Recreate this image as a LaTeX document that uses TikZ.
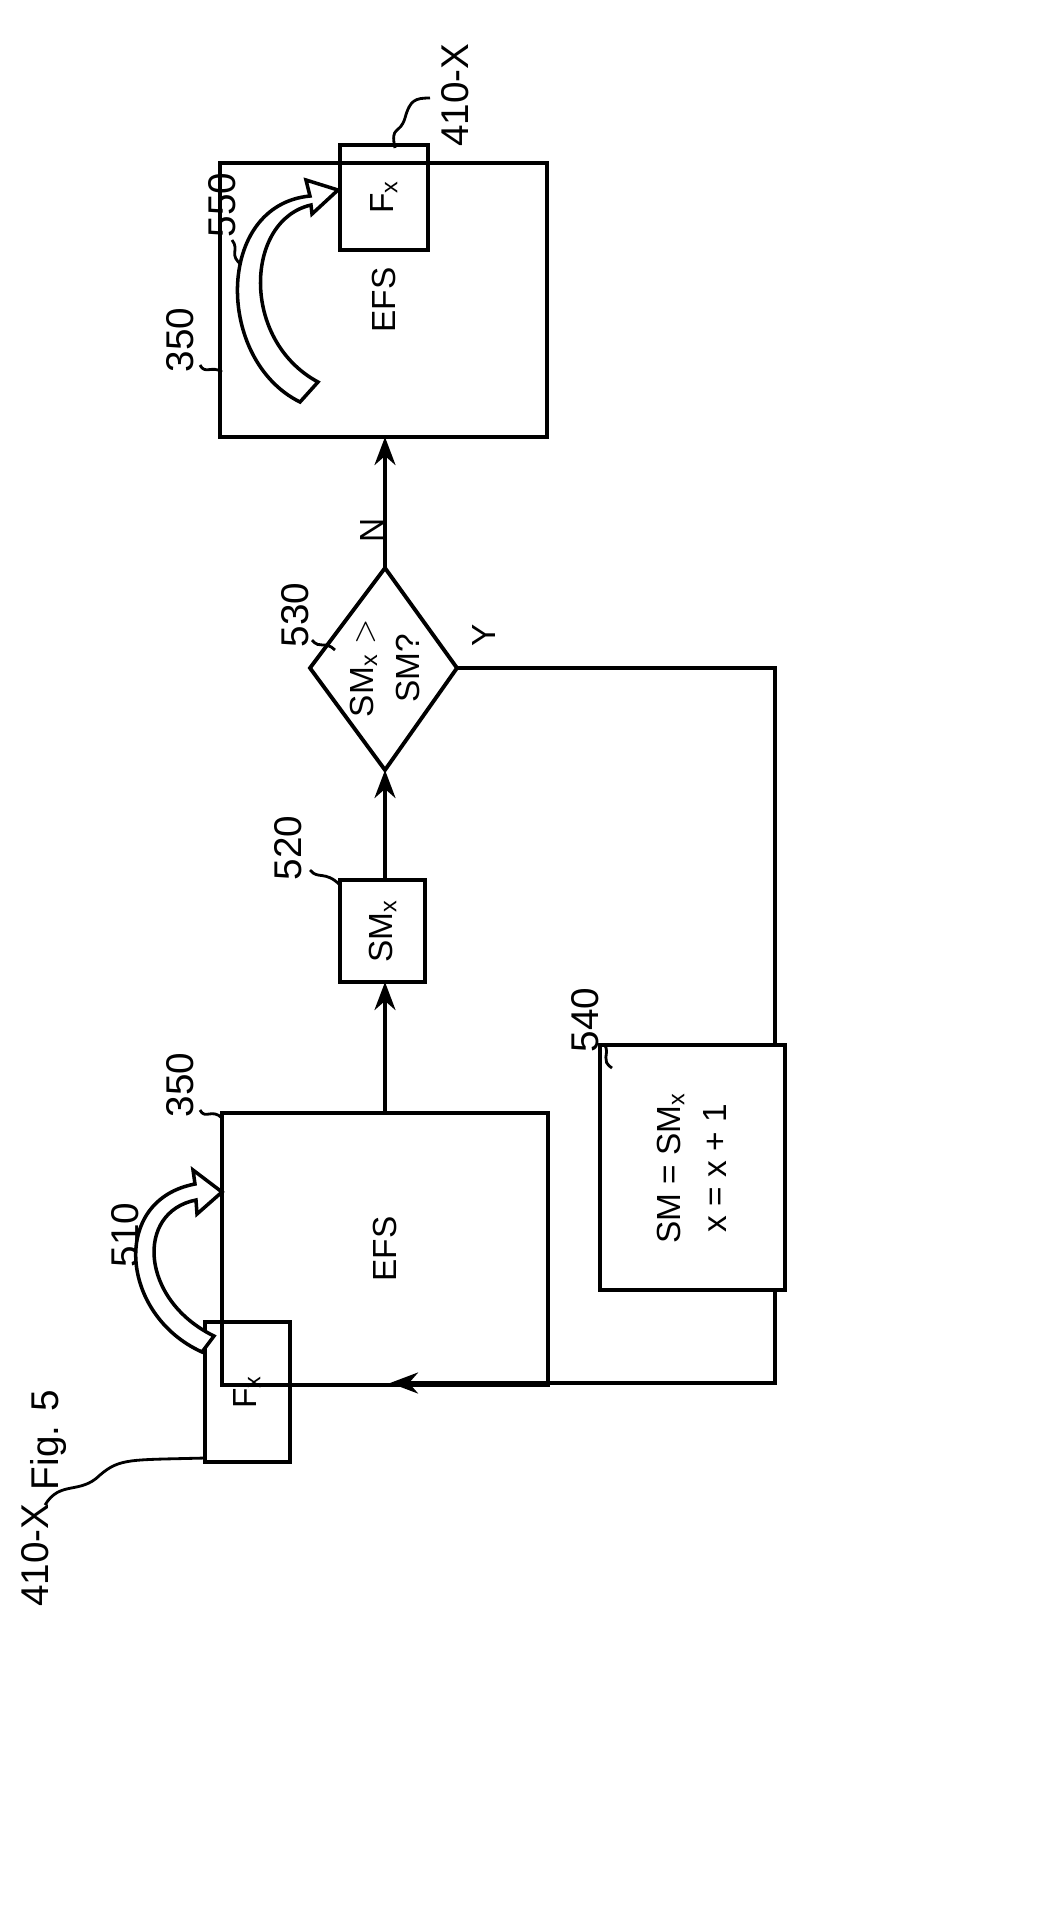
\documentclass[tikz,border=0pt]{standalone}
\usepackage{fontspec}
\setmainfont{Liberation Sans}
\usetikzlibrary{arrows.meta}
\begin{document}
\begin{tikzpicture}[x=0.01cm,y=-0.01cm,
  lbl/.style={rotate=90,font=\fontsize{11}{13}\selectfont},
  txt/.style={rotate=90,font=\fontsize{9.5}{13}\selectfont},
  lead/.style={line width=0.8pt},
  arr/.style={line width=0.9pt,-{Stealth[length=8pt,width=6pt]}},
  barrow/.style={draw,line width=1pt,fill=white}]
\useasboundingbox (0,0) rectangle (1053,1908);
\node[lbl] (fig) at (48,1440) {Fig. 5};
% bottom Fx
\draw[line width=1.1pt] (205,1322) rectangle (290,1462);
\node[txt] (fx1t) at (247,1392) {F$_\mathrm{x}$};
\node[lbl] (l410a) at (35,1555) {410-X};
\draw[lead] (45,1505) .. controls (60,1480) and (80,1495) .. (100,1475) .. controls (120,1458) and (130,1460) .. (205,1458);
% left EFS
\draw[line width=1.1pt] (222,1113) rectangle (548,1385);
\node[txt] (efs1) at (385,1249) {EFS};
\node[lbl] (l350a) at (180,1085) {350};
\draw[lead] (200,1110) .. controls (205,1120) and (212,1108) .. (222,1118);
% 510 arrow
\node[lbl] (l510) at (125,1235) {510};
\draw[lead] (140,1250) .. controls (150,1262) and (135,1268) .. (148,1280);
\draw[barrow] (202,1352) .. controls (120,1315) and (110,1200) .. (195,1184) -- (193,1170) -- (222,1192) -- (197,1214) -- (196,1200) .. controls (135,1212) and (140,1300) .. (214,1336) -- cycle;
% 520
\draw[line width=1.1pt] (340,880) rectangle (425,982);
\node[txt] (sm) at (383,931) {SM$_\mathrm{x}$};
\node[lbl] (l520) at (288,848) {520};
\draw[lead] (310,870) .. controls (318,880) and (325,870) .. (340,885);
% diamond
\draw[line width=1.1pt] (385,568) -- (457,668) -- (385,770) -- (310,668) -- cycle;
\node[txt,align=center] (dq) at (385,668) {SM$_\mathrm{x}$ $>$\\SM?};
\node[lbl] (l530) at (295,615) {530};
\draw[lead] (312,640) .. controls (320,650) and (325,640) .. (335,650);
\node[txt] (N) at (372,530) {N};
\node[txt] (Y) at (484,635) {Y};
% top EFS
\draw[line width=1.1pt] (220,163) rectangle (547,437);
\node[txt] (efs2) at (384,300) {EFS};
\node[lbl] (l350b) at (180,340) {350};
\draw[lead] (200,365) .. controls (205,375) and (212,365) .. (222,372);
% top Fx
\draw[line width=1.1pt] (340,145) rectangle (428,250);
\node[txt] (fx2) at (384,197) {F$_\mathrm{x}$};
\node[lbl] (l410b) at (455,95) {410-X};
\draw[lead] (395,148) .. controls (390,125) and (400,135) .. (405,118) .. controls (410,100) and (415,98) .. (430,98);
% 550 arrow
\node[lbl] (l550) at (222,205) {550};
\draw[lead] (232,240) .. controls (240,250) and (228,255) .. (242,265);
\draw[barrow] (300,402) .. controls (215,360) and (215,205) .. (310,196) -- (306,180) -- (338,190) -- (312,214) -- (311,205) .. controls (245,220) and (240,340) .. (318,382) -- cycle;
% 540
\draw[line width=1.1pt] (600,1045) rectangle (785,1290);
\node[txt,align=center] (b540) at (692,1168) {SM = SM$_\mathrm{x}$\\x = x + 1};
\node[lbl] (l540) at (585,1020) {540};
\draw[lead] (605,1045) .. controls (610,1055) and (600,1060) .. (612,1068);
% connectors
\draw[arr] (385,1113) -- (385,982);
\draw[arr] (385,880) -- (385,770);
\draw[arr] (385,568) -- (385,437);
\draw[line width=0.9pt] (457,668) -- (775,668) -- (775,1045);
\draw[arr] (775,1290) -- (775,1383) -- (390,1383);
\end{tikzpicture}
\end{document}
